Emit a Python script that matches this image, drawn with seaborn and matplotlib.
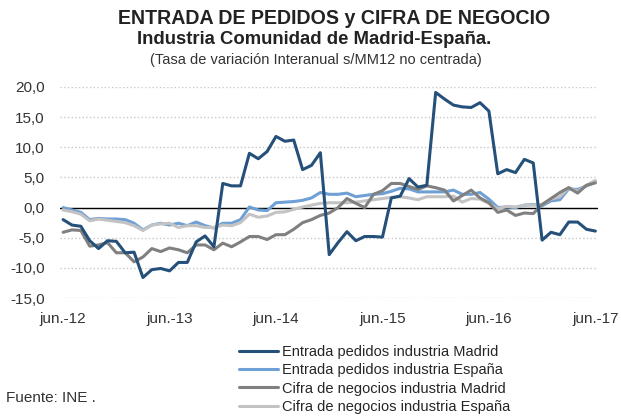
import numpy as np
import pandas as pd
import seaborn as sns
import matplotlib.pyplot as plt
from matplotlib.ticker import FuncFormatter

# Monthly year-on-year rates, jun-12 .. jun-17 (61 months)
pedidos_madrid = [-2.0, -2.9, -3.1, -5.5, -6.8, -5.5, -5.6, -7.5, -7.4, -11.6,
                  -10.3, -10.1, -10.5, -9.1, -9.1, -5.7, -4.7, -6.5, 4.0, 3.6,
                  3.6, 9.0, 8.1, 9.3, 11.8, 11.0, 11.2, 6.3, 7.0, 9.1,
                  -7.8, -5.8, -4.0, -5.5, -4.8, -4.8, -4.9, 1.6, 1.9, 4.8,
                  3.4, 3.7, 19.1, 18.0, 17.0, 16.7, 16.6, 17.4, 16.0, 5.6,
                  6.3, 5.8, 8.0, 7.4, -5.4, -4.1, -4.5, -2.4, -2.4, -3.6, -3.9]
pedidos_espana = [0.0, -0.4, -0.8, -2.0, -1.8, -1.9, -1.9, -2.0, -2.6, -3.7,
                  -2.9, -2.6, -2.9, -2.6, -3.0, -2.4, -3.0, -3.4, -2.6, -2.6,
                  -2.0, 0.1, -0.4, -0.5, 0.8, 0.9, 1.0, 1.2, 1.6, 2.5,
                  2.2, 2.2, 2.4, 1.8, 2.0, 2.2, 2.3, 2.7, 3.2, 3.1,
                  2.6, 2.6, 2.6, 2.6, 2.9, 2.2, 2.2, 2.5, 1.4, 0.0,
                  0.1, 0.0, 0.4, 0.5, 0.3, 1.1, 1.3, 3.1, 3.0, 3.6, 4.2]
cifra_madrid = [-4.1, -3.7, -3.8, -6.4, -6.2, -5.8, -7.5, -7.5, -9.0, -8.2,
                -6.8, -7.3, -6.7, -7.0, -7.5, -6.2, -6.2, -7.0, -5.9, -6.5,
                -5.7, -4.8, -4.8, -5.3, -4.5, -4.5, -3.6, -2.5, -2.0, -1.3,
                -0.9, 0.0, 1.5, 0.7, 0.0, 2.2, 2.8, 4.0, 4.0, 3.5,
                3.0, 3.6, 3.3, 2.9, 1.1, 2.0, 2.9, 1.6, 0.8, -0.8,
                -0.4, -1.3, -0.9, -1.0, 0.5, 1.5, 2.5, 3.3, 2.4, 3.7, 4.1]
cifra_espana = [-0.4, -0.7, -1.1, -2.2, -1.9, -2.1, -2.3, -2.5, -3.0, -3.8,
                -2.9, -2.7, -2.6, -3.3, -3.0, -3.0, -3.3, -3.3, -2.9, -3.0,
                -2.5, -1.1, -1.6, -1.4, -0.8, -0.7, -0.3, 0.1, 0.4, 0.7,
                0.8, 0.8, 0.8, 0.9, 1.1, 1.3, 1.5, 1.7, 1.8, 1.6,
                1.3, 1.8, 1.8, 1.8, 1.9, 0.9, 1.5, 1.4, 0.7, -0.2,
                0.2, 0.1, 0.4, 0.4, 0.5, 1.4, 1.8, 3.3, 2.7, 3.7, 4.5]

tick_labels = ['jun.-12', 'jun.-13', 'jun.-14', 'jun.-15', 'jun.-16', 'jun.-17']
series_names = ['Entrada pedidos industria Madrid', 'Entrada pedidos industria España',
                'Cifra de negocios industria Madrid', 'Cifra de negocios industria España']
colors = ['#255079', '#6E9FD5', '#808080', '#C3C3C3']
zorders = [5, 2, 4, 3]

sns.set_style('white')
plt.rcParams['font.family'] = ['Liberation Sans', 'DejaVu Sans']

month = np.arange(len(pedidos_madrid))
df = pd.DataFrame({'mes': month,
                   series_names[0]: pedidos_madrid,
                   series_names[1]: pedidos_espana,
                   series_names[2]: cifra_madrid,
                   series_names[3]: cifra_espana})

fig = plt.figure(figsize=(6.21, 4.16), dpi=100)
ax = fig.add_axes([60 / 621, 1 - 298 / 416, 538 / 621, 211 / 416])

for name, c, z in zip(series_names, colors, zorders):
    sns.lineplot(data=df, x='mes', y=name, color=c, linewidth=2.2, ax=ax,
                 label=name, zorder=z)

ax.set_xlim(-0.35, 60.3)
ax.set_ylim(-15, 20)
ax.set_yticks(np.arange(-15, 21, 5))
ax.yaxis.set_major_formatter(FuncFormatter(lambda v, p: f'{v:.1f}'.replace('.', ',')))
ax.set_xticks(np.arange(0, 61, 12))
ax.set_xticklabels(tick_labels)
ax.tick_params(axis='y', labelsize=11, pad=11, colors='#333333', length=0)
ax.tick_params(axis='x', labelsize=11, pad=10, colors='#333333', length=0)
ax.set_xlabel('')
ax.set_ylabel('')
for s in ax.spines.values():
    s.set_visible(False)
ax.grid(axis='y', color='#C8C8C8', linestyle=':', linewidth=1)
ax.axhline(0, color='black', linewidth=1, zorder=1)

handles, labels = ax.get_legend_handles_labels()
ax.legend(handles, labels, loc='upper left', bbox_to_anchor=(233 / 621, 1 - 339 / 416),
          bbox_transform=fig.transFigure, frameon=False, fontsize=10.5,
          handlelength=2.7, handletextpad=0.25, labelspacing=0.3, borderaxespad=0)

fig.text(334 / 621, 1 - 18 / 416, 'ENTRADA DE PEDIDOS y CIFRA DE NEGOCIO', ha='center', va='center',
         fontsize=14.1, fontweight='bold', color='#222222')
fig.text(314 / 621, 1 - 40 / 416, 'Industria Comunidad de Madrid-España.', ha='center', va='center',
         fontsize=13.3, fontweight='bold', color='#222222')
fig.text(316 / 621, 1 - 60 / 416, '(Tasa de variación Interanual s/MM12 no centrada)', ha='center',
         va='center', fontsize=10.5, color='#333333')
fig.text(6 / 621, 1 - 398 / 416, 'Fuente: INE .', ha='left', va='center', fontsize=11,
         color='#333333')

fig.savefig('out.png', dpi=100)
